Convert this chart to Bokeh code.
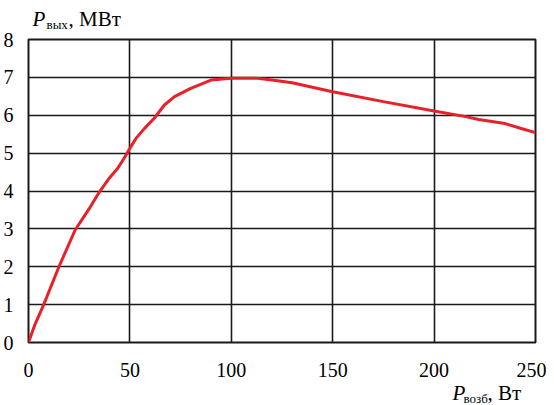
from bokeh.plotting import figure
from bokeh.models import Range1d, FixedTicker, Label
from bokeh.layouts import column
from bokeh.embed import file_html
from bokeh.resources import INLINE

# Data
p_in = [0, 3, 7.5, 15, 23, 30, 35, 40, 44, 47, 49.5, 53, 57, 62, 67, 72, 80, 90,
        100, 112, 120, 130, 150, 175, 200, 215, 222, 235, 243, 250]
p_out = [0, 0.45, 1.0, 2.0, 2.97, 3.54, 3.98, 4.35, 4.6, 4.85, 5.08, 5.39, 5.64,
         5.92, 6.27, 6.49, 6.71, 6.93, 6.98, 6.98, 6.93, 6.86, 6.62, 6.36, 6.11,
         5.97, 5.89, 5.78, 5.65, 5.54]
x_ticks = [0, 50, 100, 150, 200, 250]
y_ticks = [0, 1, 2, 3, 4, 5, 6, 7, 8]

FONT = "Liberation Serif"
FRAME_W = 507
LEFT = 20
RIGHT = 11
TOP_H = 29
BOT_H = 22
DESCENT = 0.216  # em fraction below the baseline for Liberation Serif

# ---- main chart ----
p = figure(frame_width=FRAME_W, frame_height=303, output_backend="svg",
           toolbar_location=None,
           x_range=Range1d(0, 250), y_range=Range1d(0, 8),
           min_border_left=LEFT, min_border_right=RIGHT, min_border_top=10,
           min_border_bottom=40)
p.background_fill_color = "white"
p.border_fill_color = "white"
p.outline_line_color = "#1a1a1a"
p.outline_line_width = 2

for ax, ticks in ((p.xaxis, x_ticks), (p.yaxis, y_ticks)):
    ax.ticker = FixedTicker(ticks=ticks)
    ax.axis_line_color = None
    ax.major_tick_line_color = None
    ax.minor_tick_line_color = None
    ax.major_label_text_font = FONT
    ax.major_label_text_font_size = "20px"
    ax.major_label_text_color = "black"
p.xaxis.major_label_standoff = 14
p.yaxis.major_label_standoff = 9

for g in (p.xgrid, p.ygrid):
    g.grid_line_color = "#1a1a1a"
    g.grid_line_width = 1.6
    g.grid_line_alpha = 1.0

p.line(p_in, p_out, line_color="#e8202a", line_width=3)


# ---- strips that hold the axis titles; their frames line up with the chart's ----
def strip(h):
    f = figure(frame_width=FRAME_W, frame_height=h, output_backend="svg",
               toolbar_location=None, x_axis_type=None, y_axis_type=None,
               x_range=Range1d(0, FRAME_W), y_range=Range1d(0, h),
               min_border_left=LEFT, min_border_right=RIGHT,
               min_border_top=0, min_border_bottom=0)
    f.grid.visible = False
    f.outline_line_color = None
    f.background_fill_color = "white"
    f.border_fill_color = "white"
    return f


def lab(f, x, baseline, text, size, italic=False):
    # place the text box bottom so that the baseline lands where wanted
    f.add_layout(Label(x=x, y=baseline - DESCENT * size, text=text,
                       text_font=FONT, text_font_size=f"{size}px",
                       text_color="black",
                       text_baseline="bottom", text_align="left",
                       text_font_style="italic" if italic else "normal"))


top = strip(TOP_H)
lab(top, 4, 3, "P", 21, italic=True)
lab(top, 18, 0.5, "вых", 13)
lab(top, 40, 3, ", МВт", 21)

bot = strip(BOT_H)
lab(bot, 424, 4, "P", 21, italic=True)
lab(bot, 435, 1.5, "возб", 13)
lab(bot, 459, 4, ", Вт", 21)

layout = column(top, p, bot, spacing=0)

open("out.html", "w").write(file_html(layout, INLINE))
